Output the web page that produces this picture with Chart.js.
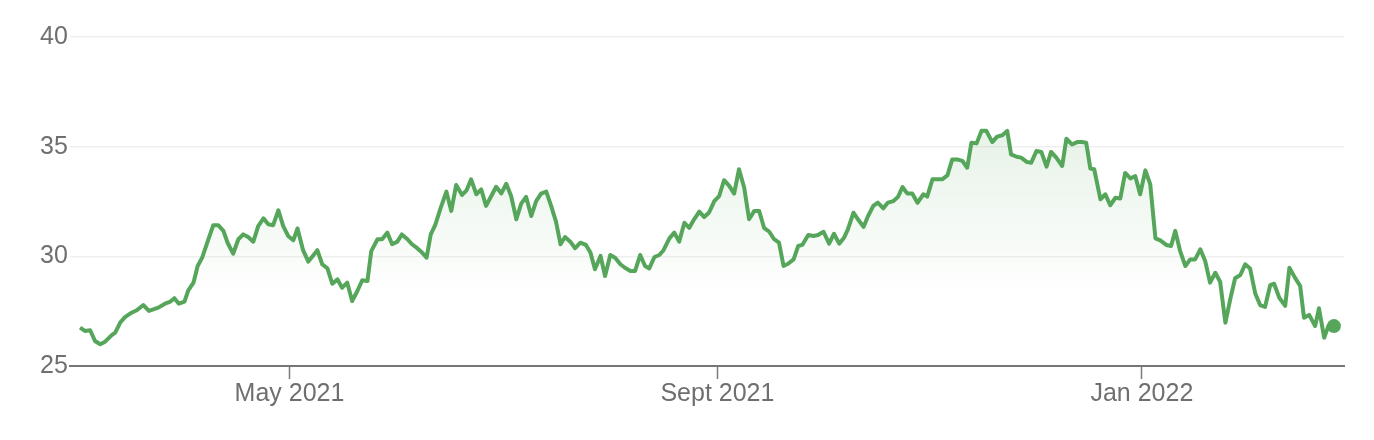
<!DOCTYPE html>
<html>
<head>
  <meta charset="utf-8">
  <title>Price chart</title>
  <script src="https://cdn.jsdelivr.net/npm/chart.js"></script>
  <style>
    body { margin: 0; background: #fff; }
    canvas { display: block; }
  </style>
</head>
<body>
  <canvas id="priceChart" width="1374" height="440"></canvas>

  <script>
    // x = days since 1 Mar 2021
    const days = [
      0.8, 2.2, 3.7, 5.1, 6.6, 8.0, 9.9, 10.9, 12.3, 13.7, 15.6, 17.1, 19.0, 20.6, 23.3, 25.2, 26.6, 27.9, 29.2, 30.8,
      31.9, 33.4, 34.6, 35.9, 37.7, 39.1, 40.5, 42.0, 43.2, 44.8, 46.3, 47.7, 49.1, 50.6, 52.0, 53.5, 54.9, 56.3, 57.8, 59.2,
      60.6, 62.1, 63.3, 64.9, 66.4, 67.7, 69.0, 70.4, 71.9, 73.3, 74.8, 76.1, 77.6, 79.0, 80.5, 81.9, 83.4, 84.5, 86.3, 87.6,
      89.1, 90.5, 92.0, 93.3, 94.9, 96.2, 97.7, 99.1, 100.4, 101.6, 102.9, 104.4, 106.1, 107.5, 108.9, 110.6, 111.9, 113.2, 114.7, 116.1,
      117.5, 119.0, 120.4, 121.9, 123.3, 124.7, 126.2, 127.6, 129.0, 130.5, 131.9, 133.3, 134.8, 136.2, 137.6, 138.9, 140.2, 141.7, 143.1, 144.6,
      146.2, 147.5, 148.8, 150.4, 151.7, 153.2, 154.6, 156.1, 157.4, 159.0, 160.3, 161.8, 163.2, 164.4, 165.9, 167.3, 168.5, 170.2, 171.6, 173.0,
      174.5, 175.9, 177.3, 178.8, 180.2, 181.6, 183.1, 184.5, 185.9, 187.4, 188.8, 190.2, 191.7, 193.1, 194.6, 196.0, 197.4, 198.9, 200.3, 201.7,
      203.0, 204.3, 205.9, 207.2, 208.4, 210.1, 211.6, 212.9, 214.5, 216.1, 217.5, 219.0, 220.4, 221.5, 223.1, 224.4, 226.0, 227.3, 228.8, 230.1,
      231.7, 233.0, 234.6, 235.9, 237.2, 238.6, 240.0, 241.5, 243.2, 244.3, 245.8, 247.2, 248.6, 250.1, 251.5, 252.9, 254.4, 255.8, 257.0, 258.5,
      259.9, 261.3, 263.0, 264.4, 265.9, 267.3, 268.4, 270.0, 271.3, 273.0, 274.2, 275.7, 277.1, 278.6, 279.9, 281.4, 283.1, 284.3, 285.9, 287.4,
      288.8, 290.0, 291.2, 292.3, 294.1, 295.5, 296.9, 298.4, 299.8, 301.2, 302.7, 304.1, 305.5, 307.0, 308.4, 309.9, 311.3, 313.0, 314.4, 315.6,
      317.0, 318.5, 319.9, 321.3, 322.8, 324.2, 325.6, 327.1, 328.5, 330.0, 331.4, 332.8, 334.3, 335.7, 337.1, 338.6, 340.0, 341.4, 342.9, 344.0,
      345.5, 347.2, 348.4, 350.0, 351.5, 352.6, 354.1, 355.8, 356.9, 358.4, 359.6, 361.2
    ];
    const prices = [
      26.75, 26.6, 26.63, 26.14, 25.99, 26.11, 26.41, 26.52, 26.97, 27.23, 27.43, 27.54, 27.78, 27.51, 27.66, 27.84, 27.92, 28.09, 27.84, 27.93,
      28.45, 28.8, 29.56, 29.94, 30.78, 31.42, 31.42, 31.16, 30.62, 30.12, 30.78, 31.0, 30.88, 30.67, 31.38, 31.73, 31.46, 31.42, 32.1, 31.38,
      30.93, 30.73, 31.27, 30.28, 29.76, 30.02, 30.28, 29.64, 29.45, 28.75, 28.95, 28.57, 28.8, 27.96, 28.42, 28.91, 28.88, 30.24, 30.78, 30.78,
      31.08, 30.55, 30.67, 31.0, 30.78, 30.55, 30.37, 30.17, 29.94, 31.0, 31.43, 32.19, 32.95, 32.07, 33.25, 32.8, 33.01, 33.51, 32.83, 33.05,
      32.3, 32.75, 33.17, 32.87, 33.31, 32.75, 31.69, 32.4, 32.71, 31.84, 32.52, 32.86, 32.95, 32.3, 31.58, 30.55, 30.88, 30.67, 30.37, 30.62,
      30.52, 30.17, 29.41, 30.02, 29.1, 30.06, 29.94, 29.64, 29.48, 29.33, 29.33, 30.06, 29.56, 29.45, 29.97, 30.06, 30.28, 30.82, 31.08, 30.67,
      31.53, 31.3, 31.69, 32.04, 31.79, 32.0, 32.52, 32.75, 33.47, 33.21, 32.86, 33.97, 33.13, 31.69, 32.07, 32.07, 31.3, 31.12, 30.78, 30.62,
      29.56, 29.66, 29.86, 30.47, 30.52, 30.97, 30.93, 30.97, 31.12, 30.58, 31.03, 30.58, 30.85, 31.23, 31.99, 31.69, 31.34, 31.84, 32.3, 32.45,
      32.19, 32.45, 32.52, 32.71, 33.16, 32.86, 32.86, 32.44, 32.83, 32.72, 33.51, 33.51, 33.51, 33.69, 34.42, 34.42, 34.35, 34.04, 35.18, 35.15,
      35.72, 35.72, 35.21, 35.46, 35.52, 35.72, 34.65, 34.54, 34.5, 34.3, 34.27, 34.8, 34.76, 34.09, 34.76, 34.5, 34.12, 35.36, 35.1, 35.21,
      35.21, 35.18, 34.0, 33.97, 32.6, 32.83, 32.33, 32.67, 32.64, 33.8, 33.55, 33.66, 32.83, 33.92, 33.29, 30.82, 30.73, 30.52, 30.47, 31.16,
      30.24, 29.56, 29.86, 29.86, 30.32, 29.79, 28.8, 29.25, 28.84, 26.97, 28.04, 29.0, 29.15, 29.64, 29.45, 28.3, 27.78, 27.69, 28.69, 28.75,
      28.11, 27.74, 29.48, 29.03, 28.65, 27.2, 27.33, 26.82, 27.63, 26.29, 26.82, 26.82
    ];
    const tickDays = [61, 184, 306];
    const tickLabels = ['May 2021', 'Sept 2021', 'Jan 2022'];
    const yTicks = [25, 30, 35, 40];

    const green = '#55a65a';
    const grey = '#6f6f6f';
    const font = { family: '"Liberation Sans", Arial, sans-serif', size: 25 };

    const points = days.map((d, i) => ({ x: d, y: prices[i] }));
    const last = points.length - 1;

    const ctx = document.getElementById('priceChart').getContext('2d');
    new Chart(ctx, {
      type: 'line',
      data: {
        datasets: [{
          data: points,
          borderColor: green,
          borderWidth: 4,
          borderJoinStyle: 'round',
          tension: 0,
          fill: 'start',
          backgroundColor: c => {
            const area = c.chart.chartArea;
            if (!area) return 'rgba(85,166,90,0.1)';
            const g = c.chart.ctx.createLinearGradient(0, area.top + 95, 0, area.top + 260);
            g.addColorStop(0, 'rgba(85,166,90,0.14)');
            g.addColorStop(1, 'rgba(85,166,90,0)');
            return g;
          },
          pointRadius: c => c.dataIndex === last ? 7 : 0,
          pointBackgroundColor: green,
          pointBorderWidth: 0
        }]
      },
      options: {
        responsive: false,
        animation: false,
        layout: { padding: { left: 38, right: 30, top: 37, bottom: 31 } },
        plugins: { legend: { display: false }, tooltip: { enabled: false } },
        scales: {
          x: {
            type: 'linear',
            min: -2.15,
            max: 364.1,
            afterBuildTicks: s => { s.ticks = tickDays.map(v => ({ value: v })); },
            ticks: {
              autoSkip: false,
              maxRotation: 0,
              padding: 0,
              color: grey,
              font: font,
              callback: v => tickLabels[tickDays.indexOf(v)]
            },
            grid: { drawOnChartArea: false, tickLength: 13, tickColor: '#7a7a7a', tickWidth: 1.5 },
            border: { color: '#767676', width: 2 }
          },
          y: {
            min: 25,
            max: 40,
            afterBuildTicks: s => { s.ticks = yTicks.map(v => ({ value: v })); },
            ticks: { padding: 2, color: grey, font: font },
            grid: { color: '#efefef', lineWidth: 1.5, drawTicks: false },
            border: { display: false }
          }
        }
      }
    });
  </script>
</body>
</html>
